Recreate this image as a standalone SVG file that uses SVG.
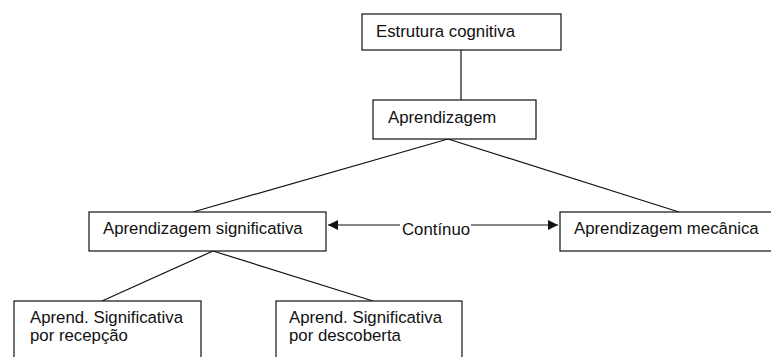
<svg xmlns="http://www.w3.org/2000/svg" width="771" height="357" viewBox="0 0 771 357">
<defs>
<style>
.box{fill:#fff;stroke:#111;stroke-width:1.2}
.lbl{font-family:"Liberation Sans",Arial,sans-serif;font-size:16.8px;fill:#111}
.con{stroke:#111;stroke-width:1.2;fill:none}
</style>
<marker id="arr" markerUnits="userSpaceOnUse" markerWidth="11" markerHeight="11" refX="10" refY="5" orient="auto">
<path d="M0,0 L10,5 L0,10 Z" fill="#111"/>
</marker>
</defs>
<rect width="771" height="357" fill="#fff"/>
<g id="connectors">
<line class="con" x1="461" y1="50" x2="461" y2="100"/>
<line class="con" x1="448" y1="139" x2="193" y2="212"/>
<line class="con" x1="448" y1="139" x2="679" y2="212"/>
<line class="con" x1="213" y1="251" x2="102" y2="301"/>
<line class="con" x1="213" y1="251" x2="373" y2="301"/>
<line class="con" x1="400" y1="225" x2="328" y2="225" marker-end="url(#arr)"/>
<line class="con" x1="471" y1="225" x2="558" y2="225" marker-end="url(#arr)"/>
<text class="lbl" x="402" y="235">Contínuo</text>
</g>
<g id="n1">
<rect class="box" x="362" y="14" width="199" height="36"/>
<text class="lbl" x="376" y="37">Estrutura cognitiva</text>
</g>
<g id="n2">
<rect class="box" x="373" y="100" width="163" height="39"/>
<text class="lbl" x="388" y="123">Aprendizagem</text>
</g>
<g id="n3">
<rect class="box" x="89" y="212" width="237" height="39"/>
<text class="lbl" x="103" y="234">Aprendizagem significativa</text>
</g>
<g id="n4">
<rect class="box" x="560" y="212" width="220" height="39"/>
<text class="lbl" x="574" y="234">Aprendizagem mecânica</text>
</g>
<g id="n5">
<rect class="box" x="14" y="301" width="187" height="70"/>
<text class="lbl" x="30" y="323">Aprend. Significativa</text>
<text class="lbl" x="30" y="341">por recepção</text>
</g>
<g id="n6">
<rect class="box" x="276" y="301" width="186" height="70"/>
<text class="lbl" x="289" y="323">Aprend. Significativa</text>
<text class="lbl" x="289" y="341">por descoberta</text>
</g>
</svg>
